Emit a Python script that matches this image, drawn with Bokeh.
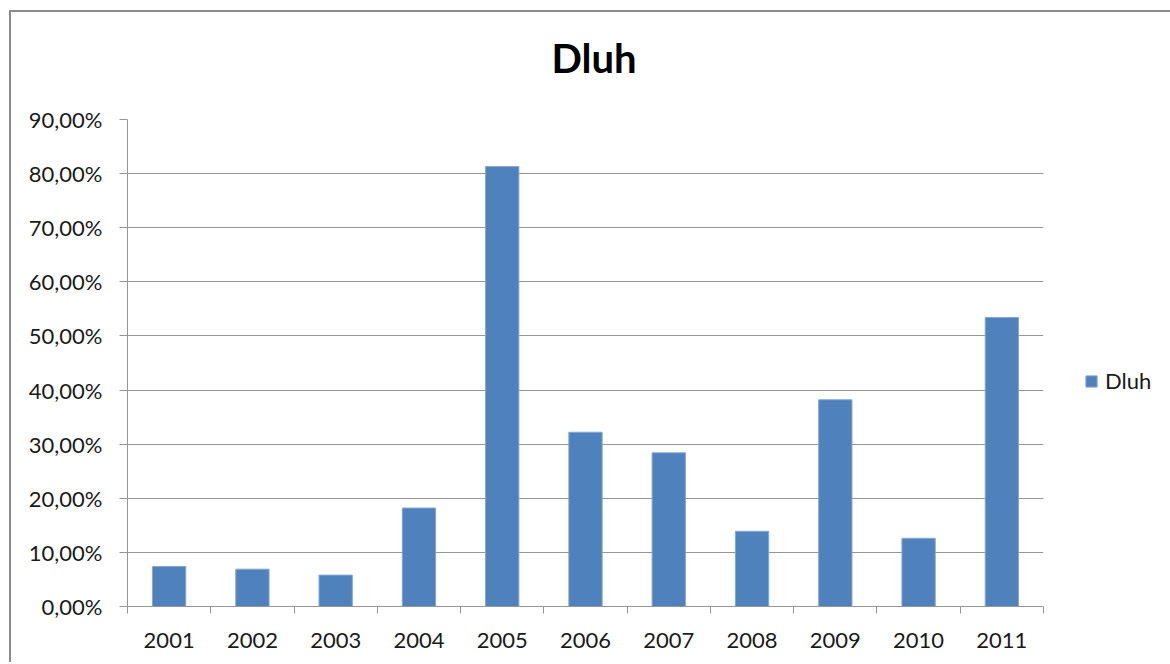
from bokeh.plotting import figure
from bokeh.layouts import column
from bokeh.models import FixedTicker, Legend, LegendItem, ColumnDataSource, Range1d
from bokeh.embed import file_html
from bokeh.resources import INLINE

# ---- data ----
years = ["2001", "2002", "2003", "2004", "2005", "2006", "2007", "2008", "2009", "2010", "2011"]
dluh = [0.074, 0.069, 0.058, 0.182, 0.813, 0.322, 0.284, 0.139, 0.382, 0.126, 0.534]
y_ticks = [0.0, 0.1, 0.2, 0.3, 0.4, 0.5, 0.6, 0.7, 0.8, 0.9]
y_tick_labels = ["0,00%", "10,00%", "20,00%", "30,00%", "40,00%", "50,00%",
                 "60,00%", "70,00%", "80,00%", "90,00%"]
title_text = "Dluh"
series_name = "Dluh"

FONT = "Lato"
GRID = "#969696"
TEXT = "#1a1a1a"

x_centers = [i + 0.5 for i in range(len(years))]
x_bounds = list(range(len(years) + 1))
src = ColumnDataSource(dict(x=x_centers, top=dluh, year=years))

p = figure(frame_width=916, frame_height=487,
           min_border_left=116, min_border_right=113,
           min_border_top=127, min_border_bottom=46,
           x_range=Range1d(0, len(years)), y_range=Range1d(0, y_ticks[-1]),
           output_backend="svg", toolbar_location=None, title=title_text)

p.styles = {"margin-top": "-20px"}

r = p.vbar(x="x", top="top", width=0.4, bottom=0, source=src,
           fill_color="#4F81BD", line_color="#86a6d3", line_width=1)

p.outline_line_color = None
p.background_fill_color = "white"
p.border_fill_alpha = 0

# title
p.title.text_font = FONT
p.title.text_font_size = "40px"
p.title.text_font_style = "bold"
p.title.text_color = "#000000"
p.title.align = "left"
p.title.offset = 424
p.title.standoff = 76

# y axis
p.yaxis.ticker = FixedTicker(ticks=y_ticks)
p.yaxis.major_label_overrides = {t: l for t, l in zip(y_ticks, y_tick_labels)}
p.yaxis.major_label_text_font = FONT
p.yaxis.major_label_text_font_size = "22px"
p.yaxis.major_label_text_color = TEXT
p.yaxis.axis_line_color = GRID
p.yaxis.major_tick_line_color = GRID
p.yaxis.major_tick_out = 8
p.yaxis.major_tick_in = 0
p.yaxis.minor_tick_line_color = None
p.yaxis.major_label_standoff = 17

# x axis
p.xaxis.ticker = FixedTicker(ticks=x_centers, minor_ticks=x_bounds)
p.xaxis.major_label_overrides = {c: y for c, y in zip(x_centers, years)}
p.xaxis.major_label_text_font = FONT
p.xaxis.major_label_text_font_size = "22px"
p.xaxis.major_label_text_color = TEXT
p.xaxis.axis_line_color = GRID
p.xaxis.major_tick_line_color = None
p.xaxis.major_tick_out = 0
p.xaxis.major_tick_in = 0
p.xaxis.minor_tick_line_color = GRID
p.xaxis.minor_tick_out = 7
p.xaxis.minor_tick_in = 0
p.xaxis.major_label_standoff = 19

p.xgrid.grid_line_color = None
p.ygrid.ticker = FixedTicker(ticks=y_ticks)
p.ygrid.grid_line_color = GRID

legend = Legend(items=[LegendItem(label=series_name, renderers=[r])],
                location=(41, 212))
legend.border_line_color = None
legend.background_fill_alpha = 0
legend.padding = 0
legend.margin = 0
legend.glyph_width = 14
legend.glyph_height = 14
legend.label_standoff = 7
legend.label_text_font = FONT
legend.label_text_font_size = "22px"
legend.label_text_color = TEXT
p.add_layout(legend, "right")

layout = column(p, styles={"border-top": "2px solid #8c8c8c",
                           "border-left": "2px solid #8c8c8c",
                           "margin-left": "9px", "margin-top": "10px",
                           "padding-bottom": "10px"})

open("out.html", "w").write(file_html(layout, INLINE))
